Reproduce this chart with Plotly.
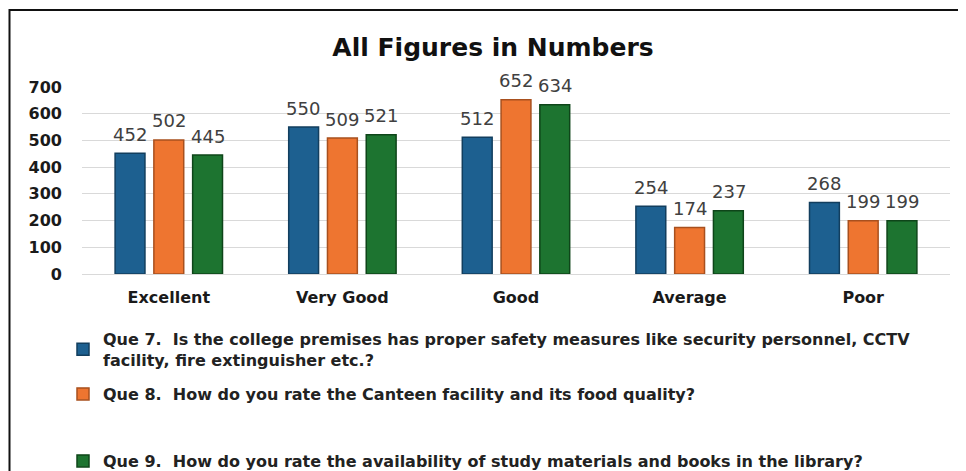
import plotly.graph_objects as go

categories = ["Excellent", "Very Good", "Good", "Average", "Poor"]
que7 = [452, 550, 512, 254, 268]
que8 = [502, 509, 652, 174, 199]
que9 = [445, 521, 634, 237, 199]
series_names = [
    "Que 7.  Is the college premises has proper safety measures like security personnel, CCTV<br>facility, fire extinguisher etc.?",
    "Que 8.  How do you rate the Canteen facility and its food quality?",
    "Que 9.  How do you rate the availability of study materials and books in the library?",
]
y_ticks = [0, 100, 200, 300, 400, 500, 600, 700]
title_text = "All Figures in Numbers"

# page offset of 8px (browser body margin) is compensated in these figure coords
W, H = 966, 471
L, R, T, B = 74, 24, 79, 205
colors = ["#1D6090", "#EE7530", "#1D7430"]
edges = ["#123E5E", "#A8501E", "#0E4519"]
legend_names = ["legend", "legend2", "legend3"]
legend_y = [341.5, 386, 453]

fig = go.Figure()
all_series = [que7, que8, que9]
for i, vals in enumerate(all_series):
    fig.add_trace(go.Bar(
        x=categories, y=vals, name=series_names[i],
        marker=dict(color=colors[i], line=dict(color=edges[i], width=1.5)),
        legend=legend_names[i],
    ))

slot = 39
for i, vals in enumerate(all_series):
    for c, v in zip(categories, vals):
        fig.add_annotation(x=c, y=v, text=str(v), showarrow=False,
                           xshift=(i - 1) * slot, yshift=19, yanchor="middle",
                           font=dict(family="DejaVu Sans", size=18, color="#404040"))

legend_common = dict(xref="container", yref="container", xanchor="left", yanchor="middle",
                     bgcolor="rgba(0,0,0,0)", borderwidth=0,
                     font=dict(family="DejaVu Sans", size=16, color="#222222", weight="bold"),
                     itemwidth=30, traceorder="normal")
layout_legends = {}
for ln, ly in zip(legend_names, legend_y):
    layout_legends[ln] = dict(x=55 / W, y=1 - ly / H, **legend_common)

fig.update_layout(
    width=W, height=H,
    margin=dict(l=L, r=R, t=T, b=B, autoexpand=False),
    paper_bgcolor="white", plot_bgcolor="white",
    barmode="group", bargap=0.33, bargroupgap=0.23,
    showlegend=True,
    title=dict(text="<b>" + title_text + "</b>", x=485 / W, xref="container", xanchor="center",
               y=1 - 39 / H, yref="container", yanchor="middle",
               font=dict(family="DejaVu Sans", size=25, color="#111111")),
    xaxis=dict(showgrid=False, showline=True, linecolor="#d9d9d9", linewidth=1,
               tickangle=0, automargin=False,
               tickfont=dict(family="DejaVu Sans", size=16, color="#1a1a1a", weight="bold"),
               ticklabelstandoff=9),
    yaxis=dict(range=[0, 700], tickvals=y_ticks, showgrid=True, gridcolor="#d9d9d9",
               gridwidth=1, zeroline=False, automargin=False,
               tickfont=dict(family="DejaVu Sans", size=16, color="#1a1a1a", weight="bold"),
               ticklabelstandoff=19),
    **layout_legends,
)

pw, ph = W - L - R, H - T - B
fig.add_shape(type="rect", xref="paper", yref="paper",
              x0=(1.5 - L) / pw, x1=(975 - L) / pw,
              y0=(H - B - 480) / ph, y1=(H - B - 2) / ph,
              line=dict(color="#111111", width=2), fillcolor="rgba(0,0,0,0)", layer="below")

fig.write_html("out.html")
